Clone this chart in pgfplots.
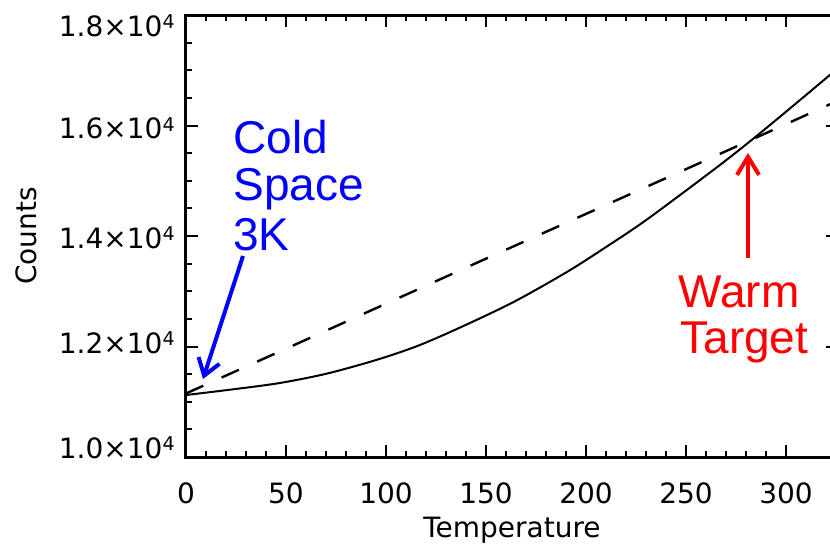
\documentclass[border=0pt]{standalone}
\usepackage{fontspec}
\setmainfont{DejaVu Sans}
\newfontfamily\annot{Liberation Sans}
\usepackage{pgfplots}
\pgfplotsset{compat=1.18}
\usetikzlibrary{arrows.meta}
\newcommand\supfour{\raisebox{3.7pt}{\fontsize{9.5}{9.5}\selectfont 4}}
\newcommand\ylab[1]{\ifcase#1\relax
 \raisebox{-0.5pt}[0pt][0pt]{1.0×10\supfour}\or
 \raisebox{-3.25pt}[0pt][0pt]{1.2×10\supfour}\or
 \raisebox{-6pt}[0pt][0pt]{1.4×10\supfour}\or
 \raisebox{-6.5pt}[0pt][0pt]{1.6×10\supfour}\or
 \raisebox{-10.5pt}[0pt][0pt]{1.8×10\supfour}\fi}
\begin{document}
\begin{tikzpicture}
\begin{axis}[
 at={(0,0)}, anchor=south west, scale only axis,
 width=326pt, height=221pt,
 xmin=0, xmax=326, ymin=10000, ymax=18000,
 scaled y ticks=false, scaled x ticks=false,
 xtick={0,50,100,150,200,250,300},
 xticklabels={0,50,100,150,200,250,300},
 ytick={10000,12000,14000,16000,18000},
 yticklabel={\ylab{\ticknum}},
 minor x tick num=4, minor y tick num=3,
 major tick length=6pt, minor tick length=3pt,
 tick align=inside,
 every tick/.style={black, line width=1pt},
 axis line style={line width=1.5pt},
 tick label style={font=\fontsize{14}{16}\selectfont},
 xticklabel style={anchor=north, inner sep=0pt, yshift=-12.5pt},
 yticklabel style={anchor=east, inner sep=0pt, xshift=-5.5pt},
 xlabel={Temperature}, ylabel={Counts},
 label style={font=\fontsize{14}{16}\selectfont},
 xlabel style={at={(axis description cs:0.5,-0.1357)}, anchor=north, inner sep=0pt},
 ylabel style={at={(axis description cs:-0.2623,0.5)}, anchor=north, inner sep=0pt},
]
\addplot[black, line width=1pt, smooth, tension=0.5] coordinates {
(0,11122) (23.5,11225) (47,11340) (70.5,11510) (95,11755) (115,12000)
(135,12310) (163.5,12800) (190.5,13350) (210,13800) (230.5,14300)
(263.5,15190) (280.5,15670) (297,16159) (317,16764) (326,17040)};
\addplot[black, line width=1.2pt, dash pattern=on 9.5pt off 10pt] coordinates {
(0,11150) (50,11960) (100,12775) (150,13590) (200,14400) (250,15210) (300,16025) (326,16450)};
\end{axis}
\node[anchor=base west, text=blue, font=\annot\fontsize{23}{23}\selectfont, inner sep=0pt] at (23.5pt,152pt) {Cold};
\node[anchor=base west, text=blue, font=\annot\fontsize{23}{23}\selectfont, inner sep=0pt] at (23.5pt,128.5pt) {Space};
\node[anchor=base west, text=blue, font=\annot\fontsize{23}{23}\selectfont, inner sep=0pt] at (23.5pt,103.5pt) {3K};
\node[anchor=base west, text=red, font=\annot\fontsize{23}{23}\selectfont, inner sep=0pt] at (246pt,75pt) {Warm};
\node[anchor=base west, text=red, font=\annot\fontsize{23}{23}\selectfont, inner sep=0pt] at (247pt,52pt) {Target};
\draw[blue, line width=2pt, -{Straight Barb[length=8pt,width=11pt]}] (28.5pt,100.5pt) -- (8.5pt,39pt);
\draw[red, line width=2pt, -{Straight Barb[length=9pt,width=11pt]}] (281pt,99.5pt) -- (281pt,152pt);
\pgfresetboundingbox
\useasboundingbox (-93pt,-45.5pt) rectangle (322pt,228.5pt);
\end{tikzpicture}
\end{document}
